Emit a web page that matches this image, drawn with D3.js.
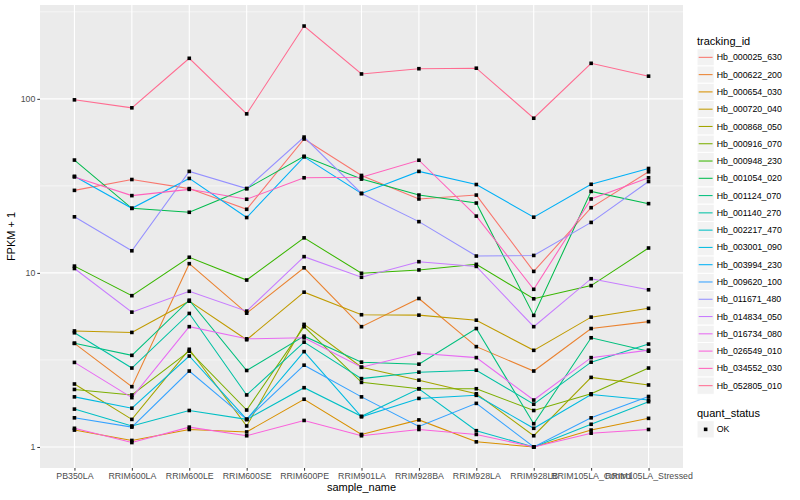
<!DOCTYPE html>
<html>
<head>
<meta charset="utf-8">
<script src="https://cdn.jsdelivr.net/npm/d3@7"></script>
<style>
	body { margin: 0; background: #fff; }
	text { font-family: "Liberation Sans", Arial, sans-serif; }
</style>
</head>
<body>
<svg id="chart" width="800" height="500"></svg>
<script>
var samples = ["PB350LA", "RRIM600LA", "RRIM600LE", "RRIM600SE", "RRIM600PE", "RRIM901LA",
	"RRIM928BA", "RRIM928LA", "RRIM928LB", "RRIM105LA_Control", "RRIM105LA_Stressed"];

// FPKM + 1 per sample
var hb_000025_630 = [29.8, 34.4, 30.5, 23.2, 58.8, 36.3, 26.6, 28.0, 10.2, 23.7, 38.1];
var hb_000622_200 = [3.94, 2.22, 11.3, 5.87, 10.7, 4.91, 7.13, 3.77, 2.73, 4.79, 5.25];
var hb_000654_030 = [1.25, 1.09, 1.26, 1.22, 1.88, 1.18, 1.43, 1.07, 1.0, 1.25, 1.46];
var hb_000720_040 = [4.64, 4.55, 6.88, 4.13, 7.75, 5.75, 5.72, 5.35, 3.59, 5.57, 6.26];
var hb_000868_050 = [2.30, 1.44, 3.64, 1.32, 5.06, 2.87, 2.42, 2.02, 1.16, 2.51, 2.27];
var hb_000916_070 = [2.14, 1.99, 3.55, 1.63, 4.91, 2.35, 2.16, 2.16, 1.62, 2.02, 2.84];
var hb_000948_230 = [10.94, 7.4, 12.3, 9.1, 15.9, 9.95, 10.4, 11.2, 7.1, 8.45, 13.9];
var hb_001054_020 = [44.5, 23.5, 22.3, 30.5, 46.8, 34.6, 28.0, 25.2, 5.7, 29.4, 25.0];
var hb_001124_070 = [3.94, 3.36, 6.97, 2.75, 4.33, 3.07, 2.99, 4.79, 1.36, 4.24, 3.55];
var hb_001140_270 = [4.53, 2.84, 5.85, 1.99, 4.0, 2.47, 2.69, 2.76, 1.76, 3.07, 3.9];
var hb_002217_470 = [1.65, 1.32, 1.62, 1.44, 2.19, 1.50, 2.16, 1.24, 1.0, 1.35, 1.82];
var hb_003001_090 = [1.94, 1.67, 3.33, 1.44, 3.53, 1.49, 1.90, 1.98, 1.28, 2.0, 1.86];
var hb_003994_230 = [35.9, 23.5, 34.9, 20.8, 46.4, 28.6, 38.3, 32.2, 20.9, 32.3, 39.8];
var hb_009620_100 = [1.47, 1.30, 2.73, 1.44, 2.95, 1.94, 1.31, 1.78, 1.0, 1.47, 1.95];
var hb_011671_480 = [21.0, 13.4, 38.3, 30.5, 60.3, 28.6, 19.7, 12.5, 12.6, 19.5, 33.5];
var hb_014834_050 = [10.6, 5.95, 7.84, 6.03, 12.4, 9.44, 11.6, 10.9, 4.91, 9.26, 8.0];
var hb_016734_080 = [3.06, 1.92, 4.91, 4.18, 4.24, 2.87, 3.45, 3.26, 1.86, 3.26, 3.6];
var hb_026549_010 = [1.28, 1.06, 1.30, 1.16, 1.42, 1.16, 1.26, 1.18, 1.0, 1.20, 1.26];
var hb_034552_030 = [35.6, 27.8, 30.2, 26.5, 35.2, 35.4, 44.4, 21.2, 8.05, 26.6, 35.2];
var hb_052805_010 = [98.7, 88.8, 171, 82, 262, 139, 149, 150, 77.4, 160, 135];

var trackingIds = ["Hb_000025_630", "Hb_000622_200", "Hb_000654_030", "Hb_000720_040", "Hb_000868_050",
	"Hb_000916_070", "Hb_000948_230", "Hb_001054_020", "Hb_001124_070", "Hb_001140_270",
	"Hb_002217_470", "Hb_003001_090", "Hb_003994_230", "Hb_009620_100", "Hb_011671_480",
	"Hb_014834_050", "Hb_016734_080", "Hb_026549_010", "Hb_034552_030", "Hb_052805_010"];
var seriesValues = [hb_000025_630, hb_000622_200, hb_000654_030, hb_000720_040, hb_000868_050,
	hb_000916_070, hb_000948_230, hb_001054_020, hb_001124_070, hb_001140_270,
	hb_002217_470, hb_003001_090, hb_003994_230, hb_009620_100, hb_011671_480,
	hb_014834_050, hb_016734_080, hb_026549_010, hb_034552_030, hb_052805_010];
var quantStatus = ["OK"];

var yTicks = [1, 10, 100];
var yMinor = [Math.pow(10, 0.5), Math.pow(10, 1.5), Math.pow(10, 2.5)];

// ggplot default hue palette for 20 levels
var hues = ["#F8766D", "#EA8331", "#D89000", "#C09B00", "#A3A500", "#7CAE00", "#39B600", "#00BB4E",
	"#00BF7D", "#00C1A3", "#00BFC4", "#00BAE0", "#00B0F6", "#35A2FF", "#9590FF", "#C77CFF",
	"#E76BF3", "#FA62DB", "#FF62BC", "#FF6C91"];

var panel = {left: 40, right: 683, top: 5, bottom: 468};
var svg = d3.select("#chart");

var series = trackingIds.map(function(id, i) {
	return {id: id, values: seriesValues[i].map(function(v, j) { return {sample: samples[j], value: v}; })};
});

var allVals = [].concat.apply([], seriesValues);
var logMin = Math.log10(d3.min(allVals));
var logMax = Math.log10(d3.max(allVals));
var pad = (logMax - logMin) * 0.05;

var x = d3.scalePoint().domain(samples).range([panel.left, panel.right]).padding(0.6);
var y = d3.scaleLog()
	.domain([Math.pow(10, logMin - pad), Math.pow(10, logMax + pad)])
	.range([panel.bottom, panel.top]);
var color = d3.scaleOrdinal().domain(trackingIds).range(hues);

// panel background + grid
svg.append("rect")
	.attr("x", panel.left).attr("y", panel.top)
	.attr("width", panel.right - panel.left).attr("height", panel.bottom - panel.top)
	.attr("fill", "#EBEBEB");

svg.append("g").selectAll("line")
	.data(yMinor).enter().append("line")
	.attr("x1", panel.left).attr("x2", panel.right)
	.attr("y1", function(d) { return y(d); }).attr("y2", function(d) { return y(d); })
	.attr("stroke", "#fff").attr("stroke-width", 0.55);

svg.append("g").selectAll("line")
	.data(yTicks).enter().append("line")
	.attr("x1", panel.left).attr("x2", panel.right)
	.attr("y1", function(d) { return y(d); }).attr("y2", function(d) { return y(d); })
	.attr("stroke", "#fff").attr("stroke-width", 1.1);

svg.append("g").selectAll("line")
	.data(samples).enter().append("line")
	.attr("y1", panel.top).attr("y2", panel.bottom)
	.attr("x1", function(d) { return x(d); }).attr("x2", function(d) { return x(d); })
	.attr("stroke", "#fff").attr("stroke-width", 1.1);

// lines
var line = d3.line()
	.x(function(d) { return x(d.sample); })
	.y(function(d) { return y(d.value); });

svg.append("g").selectAll("path")
	.data(series).enter().append("path")
	.attr("d", function(d) { return line(d.values); })
	.attr("fill", "none")
	.attr("stroke", function(d) { return color(d.id); })
	.attr("stroke-width", 1.05);

// points
var pts = [].concat.apply([], series.map(function(s) { return s.values; }));
svg.append("g").selectAll("rect")
	.data(pts).enter().append("rect")
	.attr("x", function(d) { return x(d.sample) - 1.8; })
	.attr("y", function(d) { return y(d.value) - 1.8; })
	.attr("width", 3.6).attr("height", 3.6)
	.attr("fill", "#000");

// axes
var xAxis = svg.append("g")
	.attr("transform", "translate(0," + panel.bottom + ")")
	.call(d3.axisBottom(x).tickSize(2.7).tickPadding(2));
var yAxis = svg.append("g")
	.attr("transform", "translate(" + panel.left + ",0)")
	.call(d3.axisLeft(y).tickValues(yTicks).tickFormat(d3.format("d")).tickSize(2.7).tickPadding(2));

[xAxis, yAxis].forEach(function(a) {
	a.select(".domain").remove();
	a.selectAll(".tick line").attr("stroke", "#333");
	a.selectAll(".tick text")
		.attr("fill", "#4D4D4D")
		.style("font-size", "8.8px")
		.style("font-family", "'Liberation Sans', Arial, sans-serif");
});

svg.append("text")
	.attr("x", (panel.left + panel.right) / 2).attr("y", 491)
	.attr("text-anchor", "middle")
	.style("font-size", "11px")
	.text("sample_name");

svg.append("text")
	.attr("transform", "translate(15," + ((panel.top + panel.bottom) / 2) + ") rotate(-90)")
	.attr("text-anchor", "middle")
	.style("font-size", "11px")
	.text("FPKM + 1");

// legend: tracking_id
var keyH = 17.28, keyW = 17.28, legX = 697;
var leg = svg.append("g");
leg.append("text")
	.attr("x", legX).attr("y", 44.5)
	.style("font-size", "11px")
	.text("tracking_id");

var rows = leg.selectAll("g.row")
	.data(trackingIds).enter().append("g")
	.attr("class", "row")
	.attr("transform", function(d, i) { return "translate(" + legX + "," + (48.7 + i * keyH) + ")"; });

rows.append("rect")
	.attr("width", keyW).attr("height", keyH)
	.attr("fill", "#F2F2F2").attr("stroke", "#fff").attr("stroke-width", 1);
rows.append("line")
	.attr("x1", 1.7).attr("x2", keyW - 1.7)
	.attr("y1", keyH / 2).attr("y2", keyH / 2)
	.attr("stroke", function(d) { return color(d); })
	.attr("stroke-width", 1.05);
rows.append("text")
	.attr("x", keyW + 2.5).attr("y", keyH / 2)
	.attr("dy", "0.35em")
	.style("font-size", "8.8px")
	.text(function(d) { return d; });

// legend: quant_status
var qs = svg.append("g");
qs.append("text")
	.attr("x", legX).attr("y", 416.5)
	.style("font-size", "11px")
	.text("quant_status");

var qRows = qs.selectAll("g.qrow")
	.data(quantStatus).enter().append("g")
	.attr("class", "qrow")
	.attr("transform", function(d, i) { return "translate(" + legX + "," + (420.7 + i * keyH) + ")"; });
qRows.append("rect")
	.attr("width", keyW).attr("height", keyH)
	.attr("fill", "#F2F2F2").attr("stroke", "#fff").attr("stroke-width", 1);
qRows.append("rect")
	.attr("x", keyW / 2 - 1.8).attr("y", keyH / 2 - 1.8)
	.attr("width", 3.6).attr("height", 3.6)
	.attr("fill", "#000");
qRows.append("text")
	.attr("x", keyW + 2.5).attr("y", keyH / 2)
	.attr("dy", "0.35em")
	.style("font-size", "8.8px")
	.text(function(d) { return d; });
</script>
</body>
</html>
